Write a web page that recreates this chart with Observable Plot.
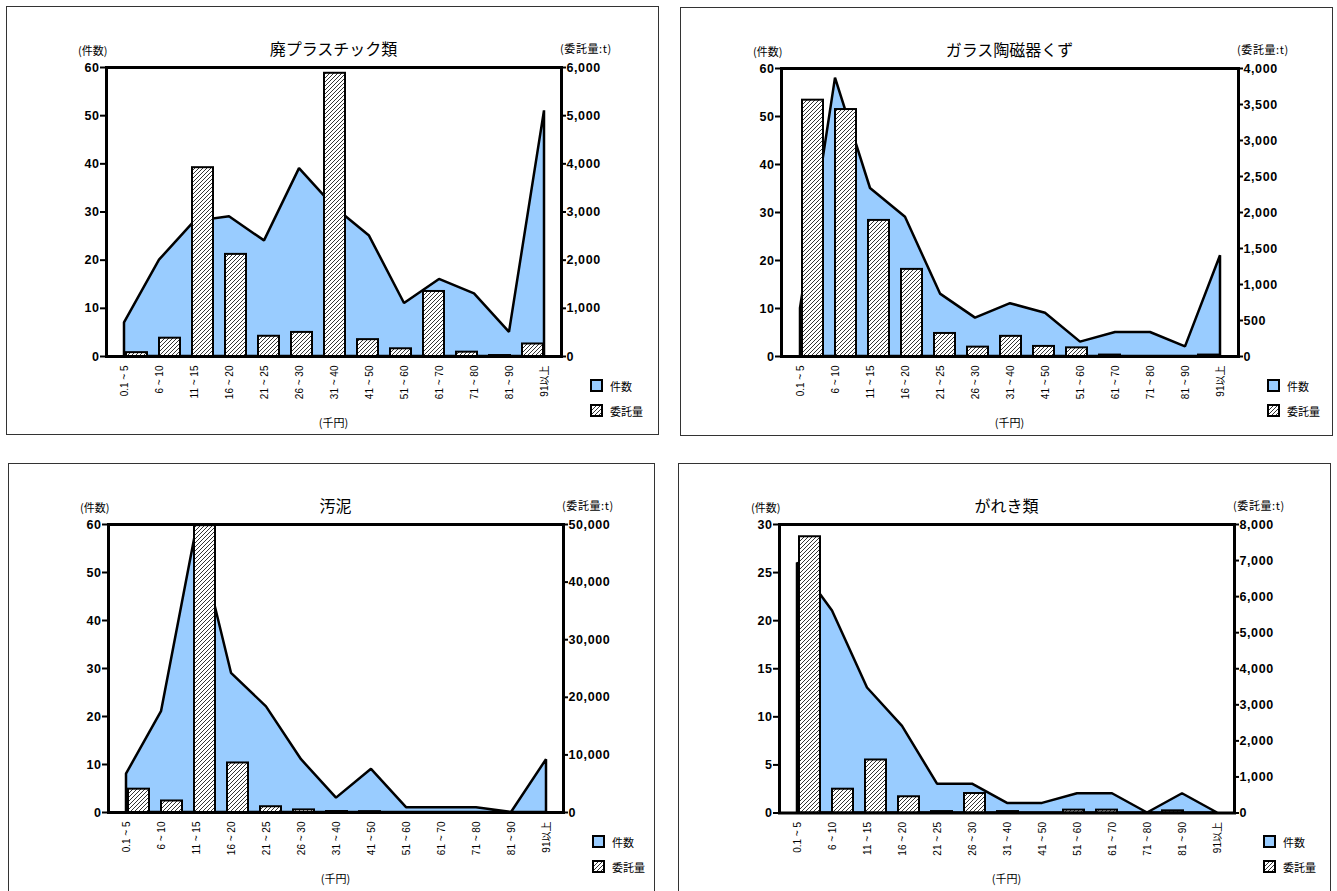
<!DOCTYPE html>
<html><head><meta charset="utf-8">
<script src="https://cdn.jsdelivr.net/npm/d3@7"></script>
<script src="https://cdn.jsdelivr.net/npm/@observablehq/plot@0.6"></script>
<style>
html,body{margin:0;padding:0;background:#fff;overflow:hidden;}
#page{position:relative;width:1337px;height:891px;overflow:hidden;background:#fff;font-family:"Liberation Sans",Arial,"Noto Sans CJK JP",sans-serif;}
.frame{position:absolute;border:1px solid #333;box-sizing:border-box;}
.abs{position:absolute;white-space:nowrap;line-height:1;}
.title{font-family:"Noto Sans CJK JP",sans-serif;font-size:16px;transform:translate(-50%,-50%);color:#000;}
.small{font-family:"Noto Sans CJK JP","Liberation Sans",sans-serif;font-size:11px;transform:translateY(-50%);color:#000;}
.center{transform:translate(-50%,-50%);}
.layer{position:absolute;}
.layer [aria-label="y-axis tick label"] text{letter-spacing:0.6px;}
.box{position:absolute;width:13px;height:13px;box-sizing:border-box;border:2px solid #000;background:#99CCFF;}
</style></head><body>
<svg width="0" height="0" style="position:absolute"><defs>
<pattern id="hatch" patternUnits="userSpaceOnUse" width="4" height="4">
<rect width="4" height="4" fill="#fff"/>
<path d="M-1,1 l2,-2 M0,4 l4,-4 M3,5 l2,-2" stroke="#000" stroke-width="0.8"/>
</pattern></defs></svg>
<div id="page"></div>
<script>
// ---- data ----
const categories = ["0.1 ~ 5","6 ~ 10","11 ~ 15","16 ~ 20","21 ~ 25","26 ~ 30","31 ~ 40","41 ~ 50","51 ~ 60","61 ~ 70","71 ~ 80","81 ~ 90","91以上"];

const titles = ["廃プラスチック類","ガラス陶磁器くず","汚泥","がれき類"];

// 件数
const countHaipura = [7,20,28,29,24,39,31,25,11,16,13,5,51];
const countGlass   = [10,58,35,29,13,8,11,9,3,5,5,2,21];
const countOdei    = [8,21,59,29,22,11,3,9,1,1,1,0,11];
const countGareki  = [26,21,13,9,3,3,1,1,2,2,0,2,0];

// 委託量 (t)
const volHaipura = [80,380,3920,2120,420,500,5880,350,160,1350,90,20,260];
const volGlass   = [3560,3430,1890,1210,320,130,280,140,120,20,0,0,20];
const volOdei    = [4050,2000,49800,8600,1000,450,170,150,0,0,0,0,0];
const volGareki  = [7660,660,1470,450,40,540,40,0,80,80,0,60,0];

// tick values
const countTicks60 = [0,10,20,30,40,50,60];
const countTicks30 = [0,5,10,15,20,25,30];
const volTicksHaipura = [0,1000,2000,3000,4000,5000,6000];
const volTicksGlass   = [0,500,1000,1500,2000,2500,3000,3500,4000];
const volTicksOdei    = [0,10000,20000,30000,40000,50000];
const volTicksGareki  = [0,1000,2000,3000,4000,5000,6000,7000,8000];

const FONT = '"Liberation Sans", Arial, "Noto Sans CJK JP", sans-serif';

// ---- layout (page coordinates) ----
const panels = [
  {title: titles[0], count: countHaipura, vol: volHaipura, cTicks: countTicks60, vTicks: volTicksHaipura,
   frame:[6,6,659,435], pl:106, pt:67, pr:561, pb:356},
  {title: titles[1], count: countGlass, vol: volGlass, cTicks: countTicks60, vTicks: volTicksGlass,
   frame:[680,7,1333,436], pl:781, pt:68, pr:1238, pb:356},
  {title: titles[2], count: countOdei, vol: volOdei, cTicks: countTicks60, vTicks: volTicksOdei,
   frame:[8,463,655,900], pl:108, pt:524, pr:563, pb:812},
  {title: titles[3], count: countGareki, vol: volGareki, cTicks: countTicks30, vTicks: volTicksGareki,
   frame:[678,463,1331,900], pl:779, pt:523.5, pr:1234, pb:812}
];

const page = document.getElementById("page");

function addText(txt, cls, x, y, extra) {
  const d = document.createElement("div");
  d.className = "abs " + cls;
  d.textContent = txt;
  d.style.left = x + "px";
  d.style.top = y + "px";
  if (extra) Object.assign(d.style, extra);
  page.appendChild(d);
  return d;
}

function buildPanel(p) {
  const fr = document.createElement("div");
  fr.className = "frame";
  Object.assign(fr.style, {left: p.frame[0]+"px", top: p.frame[1]+"px",
    width: (p.frame[2]-p.frame[0])+"px", height: (p.frame[3]-p.frame[1])+"px"});
  page.appendChild(fr);

  const ML = 40, MR = 60, MT = 10, MB = 50;
  const w = p.pr - p.pl, h = p.pb - p.pt;
  const W = w + ML + MR, H = h + MT + MB;
  const rows = categories.map((c, i) => ({cat: c, count: p.count[i], vol: p.vol[i]}));
  const common = {width: W, height: H, marginLeft: ML, marginRight: MR, marginTop: MT, marginBottom: MB,
    style: {background: "transparent", overflow: "visible", fontFamily: FONT, color: "#000"}};

  const A = Plot.plot({...common,
    x: {type: "point", domain: categories, padding: 0.5, label: null},
    y: {domain: [0, p.cTicks[p.cTicks.length-1]], label: null},
    marks: [
      Plot.areaY(rows, {x: "cat", y: "count", fill: "#99CCFF", stroke: "#000", strokeWidth: 2.5, strokeLinejoin: "miter"}),
      Plot.axisX({tickRotate: -90, tickSize: 0, tickPadding: 9, fontSize: 10, label: null}),
      Plot.axisY({ticks: p.cTicks, tickSize: 6, tickPadding: 1, fontSize: 12.5, fontWeight: "bold", strokeWidth: 2, label: null})
    ]
  });
  const B = Plot.plot({...common,
    x: {type: "band", domain: categories, paddingInner: 0.37, paddingOuter: 0.185, insetLeft: 12, insetRight: 10, axis: null},
    y: {domain: [0, p.vTicks[p.vTicks.length-1]], label: null},
    marks: [
      Plot.barY(rows, {x: "cat", y: "vol", fill: "url(#hatch)", stroke: "#000", strokeWidth: 2}),
      Plot.frame({stroke: "#000", strokeWidth: 3}),
      Plot.axisY({anchor: "right", ticks: p.vTicks, tickFormat: d3.format(","), tickSize: 4, tickPadding: 1,
        fontSize: 12.5, fontWeight: "bold", strokeWidth: 2, label: null})
    ]
  });
  for (const svg of [A, B]) {
    svg.classList.add("layer");
    svg.style.left = (p.pl - ML) + "px";
    svg.style.top = (p.pt - MT) + "px";
    svg.style.maxWidth = "none";
    page.appendChild(svg);
  }

  const cx = (p.pl + p.pr) / 2;
  addText(p.title, "title", cx, p.pt - 19);
  addText("(件数)", "small", p.pl - 28, p.pt - 17);
  addText("(委託量:t)", "small", p.pr - 1, p.pt - 19, {letterSpacing: "0.6px"});
  addText("(千円)", "small center", cx, p.pb + 66);

  // legend
  const b1 = document.createElement("div");
  b1.className = "box";
  b1.style.left = (p.pr + 29) + "px";
  b1.style.top = (p.pb + 23) + "px";
  page.appendChild(b1);
  addText("件数", "small", p.pr + 49, p.pb + 29.5);
  const ns = "http://www.w3.org/2000/svg";
  const s2 = document.createElementNS(ns, "svg");
  s2.setAttribute("width", 13); s2.setAttribute("height", 13);
  s2.style.position = "absolute";
  s2.style.left = (p.pr + 29) + "px";
  s2.style.top = (p.pb + 48) + "px";
  const r = document.createElementNS(ns, "rect");
  r.setAttribute("x", 1); r.setAttribute("y", 1); r.setAttribute("width", 11); r.setAttribute("height", 11);
  r.setAttribute("fill", "url(#hatch)"); r.setAttribute("stroke", "#000"); r.setAttribute("stroke-width", 2);
  s2.appendChild(r);
  page.appendChild(s2);
  addText("委託量", "small", p.pr + 49, p.pb + 54.5);
}

panels.forEach(buildPanel);
</script>
</body></html>
